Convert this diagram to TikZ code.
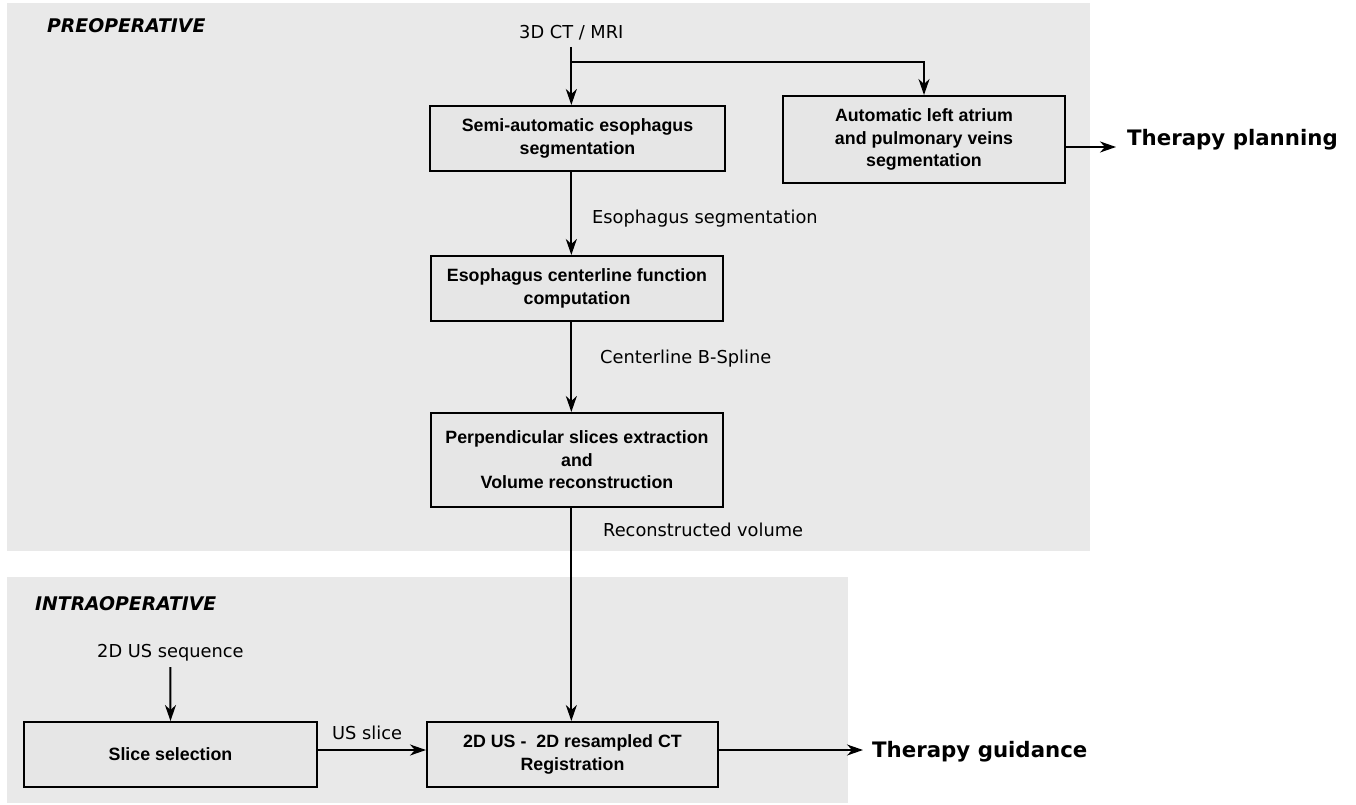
\documentclass[tikz,border=0pt]{standalone}
\usepackage{fontspec}
\setmainfont{DejaVu Sans}
\newfontfamily\boxfont{Liberation Sans}
\usetikzlibrary{arrows.meta}
\definecolor{panelgray}{RGB}{233,233,233}
\definecolor{boxgray}{RGB}{230,230,230}
\tikzset{
  panel/.style={fill=panelgray, draw=none},
  procbox/.style={draw=black, line width=2pt, fill=boxgray, align=center,
    font=\boxfont\bfseries\fontsize{17.8}{22.5}\selectfont, inner sep=0pt},
  lbl/.style={font=\fontsize{17.8}{21}\selectfont, inner sep=0pt, anchor=base west},
  phase/.style={font=\bfseries\itshape\fontsize{18.8}{22}\selectfont, inner sep=0pt, anchor=base west},
  outlbl/.style={font=\bfseries\fontsize{21.3}{25}\selectfont, inner sep=0pt, anchor=base west},
  arr/.style={line width=2pt, -{Stealth[length=16pt,width=11pt,inset=5pt]}}
}
\begin{document}
\begin{tikzpicture}[x=1pt,y=-1pt]
\useasboundingbox (0,0) rectangle (1356,805);
% panels
\fill[panel] (7,3) rectangle (1090,551);
\fill[panel] (7,577) rectangle (848,803);
% phase titles
\node[phase] (pre) at (47,33) {PREOPERATIVE};
\node[phase] (intra) at (35,610) {INTRAOPERATIVE};
% boxes
\node[procbox, minimum width=295pt, minimum height=65pt] (b1) at (577.5,138.5)
  {Semi-automatic esophagus\\segmentation};
\node[procbox, minimum width=282pt, minimum height=87pt] (b2) at (924,139.5)
  {Automatic left atrium\\and pulmonary veins\\segmentation};
\node[procbox, minimum width=292pt, minimum height=65pt] (b3) at (577,288.5)
  {Esophagus centerline function\\computation};
\node[procbox, minimum width=292pt, minimum height=94pt] (b4) at (577,460)
  {Perpendicular slices extraction\\and\\Volume reconstruction};
\node[procbox, minimum width=293pt, minimum height=65pt] (b5) at (170.5,754.5)
  {Slice selection};
\node[procbox, minimum width=291pt, minimum height=65pt] (b6) at (572.5,754.5)
  {2D US -\ \ 2D resampled CT\\Registration};
% labels
\node[lbl] (src) at (519,39) {3D CT / MRI};
\node[lbl] (l1) at (592,223) {Esophagus segmentation};
\node[lbl] (l2) at (600,363) {Centerline B-Spline};
\node[lbl] (l3) at (603,536) {Reconstructed volume};
\node[lbl] (seq) at (97,657) {2D US sequence};
\node[lbl] (l4) at (332,739) {US slice};
\node[outlbl] (tp) at (1127,146) {Therapy planning};
\node[outlbl] (tg) at (872,757) {Therapy guidance};
% connectors
\coordinate (br) at ([yshift=-23pt]src.base);
\draw[arr] ([yshift=-8pt]src.base) -- (b1.north -| src.base);
\draw[arr] (br) -| (b2.north);
\draw[arr] (b1.south -| src.base) -- (b3.north -| src.base);
\draw[arr] (b3.south -| src.base) -- (b4.north -| src.base);
\draw[arr] (b4.south -| src.base) -- (b6.north -| src.base);
\draw[arr] ([yshift=-10pt]seq.base) -- (b5.north);
\draw[arr] ([yshift=4.5pt]b5.east) -- ([yshift=4.5pt]b5.east -| b6.west);
\draw[arr, shorten >=11pt] ([yshift=-7.5pt]b2.east) -- ([yshift=-7.5pt]b2.east -| tp.west);
\draw[arr, shorten >=9pt] ([yshift=4.5pt]b6.east) -- ([yshift=4.5pt]b6.east -| tg.west);
\end{tikzpicture}
\end{document}
